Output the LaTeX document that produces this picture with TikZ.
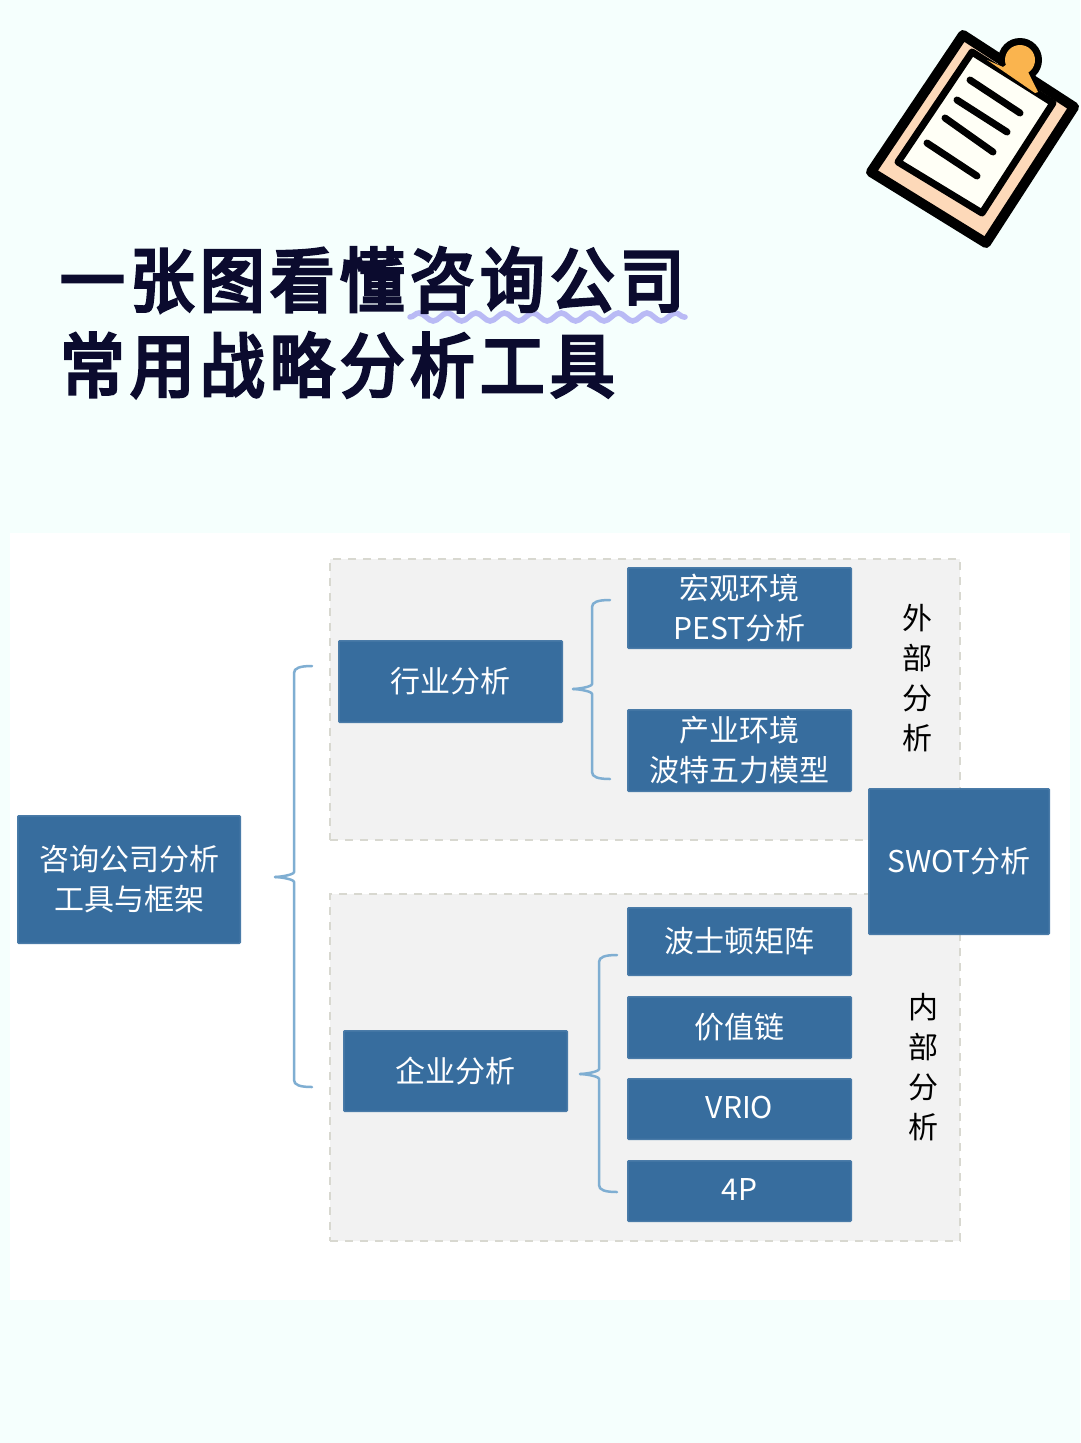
\documentclass[tikz,border=0pt]{standalone}
\usepackage{fontspec}
\setmainfont{Noto Sans CJK SC}
\newfontfamily\titlefont[LetterSpace=8,FakeBold=4.5,FakeStretch=0.92]{Noto Sans CJK SC}
\usetikzlibrary{decorations.pathmorphing}
\definecolor{pagebg}{HTML}{F5FFFD}
\definecolor{boxblue}{HTML}{376D9E}
\definecolor{boxedge}{HTML}{4A7BA8}
\definecolor{bracketblue}{HTML}{7FAED2}
\definecolor{zonegrey}{HTML}{F2F2F2}
\definecolor{zoneedge}{HTML}{D8D8D0}
\definecolor{titleink}{HTML}{0B0B2E}
\definecolor{wavy}{HTML}{B9BAF5}
\definecolor{boardpeach}{HTML}{FDD9B9}
\definecolor{clipamber}{HTML}{FAB44E}
\definecolor{paperwhite}{HTML}{FFFFF6}
\tikzset{
  bluebox/.style={draw=boxedge,line width=1.5pt,fill=boxblue,text=white,rounded corners=1pt,
    font=\fontsize{30}{40}\selectfont,align=center,inner sep=0pt,outer sep=0pt},
  zone/.style={draw=zoneedge,line width=1.5pt,dash pattern=on 8pt off 7pt,fill=zonegrey,
    inner sep=0pt,outer sep=0pt},
  sidelabel/.style={text=black,font=\fontsize{30}{40}\selectfont,align=center,inner sep=0pt},
  titleline/.style={anchor=west,text=titleink,inner sep=0pt,
    font=\titlefont\fontsize{70}{70}\selectfont},
  bracket/.style={draw=bracketblue,line width=2.5pt,line cap=round},
  inkline/.style={draw=black,line join=round,line cap=round},
}
% top tip, middle tip, bottom tip
\newcommand{\sidebrace}[3]{
  \draw[bracket] (#1) .. controls +(-12,0) and +(0,-5) .. ([shift={(-18,7)}]#1)
    -- ([shift={(19,-5)}]#2) .. controls +(0,3) and +(4,0) .. (#2);
  \draw[bracket] (#3) .. controls +(-12,0) and +(0,5) .. ([shift={(-18,-7)}]#3)
    -- ([shift={(19,5)}]#2) .. controls +(0,-3) and +(4,0) .. (#2);
}

\begin{document}
\begin{tikzpicture}[x=1pt,y=-1pt]
  % page
  \fill[pagebg] (0,0) rectangle (1080,1443);
  \useasboundingbox (0,0) rectangle (1080,1443);
  \fill[white] (10,533) rectangle (1070,1300);
  % clipboard
  \draw[inkline,line width=10pt,fill=boardpeach] (963,35) -- (1074,107) -- (986,243) -- (871,172) -- cycle;
  \fill[black] (1020,60) circle (22);
  \fill[clipamber] (1020,60) circle (15);
  \draw[inkline,line width=7pt,fill=paperwhite] (972,52) -- (1053,103) -- (982,213) -- (898,162) -- cycle;
  \fill[clipamber] (987,60) -- (1003,67) -- (1010,62) -- (1030,62) -- (1028,72) -- (1038,92) -- (1035,93) -- cycle;
  \draw[inkline,line width=7pt] (970,80) -- (1020,113);
  \draw[inkline,line width=7pt] (957,100) -- (1007,132);
  \draw[inkline,line width=7pt] (945,118) -- (993,152);
  \draw[inkline,line width=7pt] (927,143) -- (977,176);
  % title
  \draw[wavy,line width=5.5pt,line cap=round,decorate,
        decoration={snake,segment length=28.5pt,amplitude=4pt}] (410,317) -- (685,317);
  \node[titleline] (titlea) at (60,280) {一张图看懂咨询公司};
  \node[titleline] (titleb) at (60,365) {常用战略分析工具};
  % zones
  \node[zone,minimum width=630pt,minimum height=281pt] (waizone) at (645,699.5) {};
  \node[zone,minimum width=630pt,minimum height=347pt] (neizone) at (645,1067.5) {};
  % boxes
  \node[bluebox,minimum width=222.5pt,minimum height=127.5pt] (root) at (129,879.5) {咨询公司分析\\工具与框架};
  \node[bluebox,minimum width=223.5pt,minimum height=81.5pt] (hangye) at (450.5,681.5) {行业分析};
  \node[bluebox,minimum width=223.5pt,minimum height=80.5pt] (qiye) at (455.5,1071) {企业分析};
  \node[bluebox,minimum width=223.5pt,minimum height=80.5pt] (pest) at (739.5,608) {宏观环境\\PEST分析};
  \node[bluebox,minimum width=223.5pt,minimum height=81.5pt] (porter) at (739.5,750.5) {产业环境\\波特五力模型};
  \node[bluebox,minimum width=223.5pt,minimum height=67.5pt] (boston) at (739.5,941.5) {波士顿矩阵};
  \node[bluebox,minimum width=223.5pt,minimum height=61.5pt] (chain) at (739.5,1027.5) {价值链};
  \node[bluebox,minimum width=223.5pt,minimum height=60.5pt] (vrio) at (739.5,1109) {\raisebox{4pt}{VRIO}};
  \node[bluebox,minimum width=223.5pt,minimum height=60.5pt] (fourp) at (739.5,1191) {\raisebox{4pt}{4P}};
  \node[bluebox,minimum width=180.5pt,minimum height=145.5pt] (swot) at (959,861.5) {SWOT分析};
  % side labels
  \node[sidelabel] (wailabel) at (917,678) {外\\部\\分\\析};
  \node[sidelabel] (neilabel) at (923,1067) {内\\部\\分\\析};
  % brackets
  \coordinate (rootmid) at (275,877);
  \coordinate (roottop) at (312,666);
  \coordinate (rootbot) at (312,1087);
  \sidebrace{roottop}{rootmid}{rootbot}
  \coordinate (hangmid) at (573,689);
  \coordinate (hangtop) at (610,600);
  \coordinate (hangbot) at (610,779);
  \sidebrace{hangtop}{hangmid}{hangbot}
  \coordinate (qiyemid) at (580,1074);
  \coordinate (qiyetop) at (617,955);
  \coordinate (qiyebot) at (617,1192);
  \sidebrace{qiyetop}{qiyemid}{qiyebot}
\end{tikzpicture}
\end{document}
